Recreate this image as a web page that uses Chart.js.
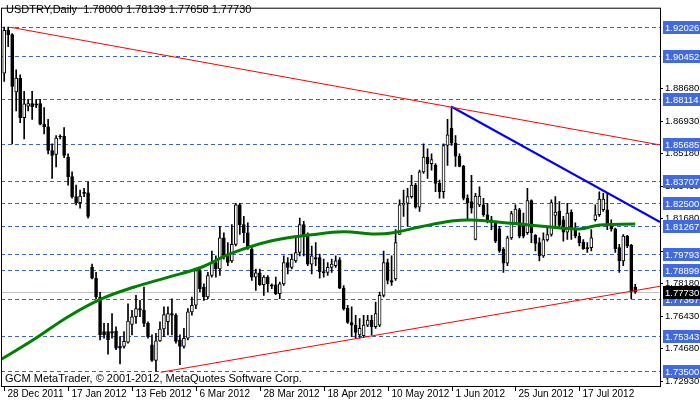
<!DOCTYPE html>
<html>
<head>
<meta charset="utf-8">
<script src="https://cdn.jsdelivr.net/npm/chart.js@4.4.0/dist/chart.umd.min.js"></script>
<style>
  body { margin: 0; background: #fff; }
  #wrap { position: relative; width: 700px; height: 402px; }
</style>
</head>
<body>
<div id="wrap"><canvas id="chart" width="700" height="402"></canvas></div>
<script>
// USDTRY daily candles, 28 Dec 2011 .. 1 Aug 2012
const opens = [1.8951,1.9182,1.9159,1.8850,1.8925,1.8712,1.8774,1.8788,1.8786,1.8788,1.8677,1.8663,1.8535,1.8514,1.8613,1.8611,1.8500,1.8394,1.8287,1.8254,
  1.8307,1.8307,1.7906,1.7847,1.7746,1.7560,1.7560,1.7560,1.7563,1.7480,1.7480,1.7503,1.7599,1.7640,1.7684,1.7675,1.7604,1.7489,1.7405,1.7510,
  1.7574,1.7613,1.7657,1.7648,1.7515,1.7480,1.7524,1.7666,1.7702,1.7888,1.7799,1.7746,1.7862,1.7932,1.7897,1.8065,1.7968,1.7941,1.8030,1.8242,
  1.8136,1.8092,1.8003,1.7853,1.7876,1.7812,1.7853,1.7812,1.7812,1.7764,1.7817,1.7932,1.7906,1.7941,1.7986,1.8136,1.8074,1.7923,1.7959,1.7959,
  1.7883,1.7879,1.7906,1.7915,1.7946,1.7794,1.7687,1.7609,1.7595,1.7542,1.7538,1.7595,1.7622,1.7586,1.7595,1.7755,1.7932,1.7835,1.7844,1.8083,
  1.8242,1.8251,1.8287,1.8349,1.8230,1.8420,1.8500,1.8464,1.8455,1.8358,1.8313,1.8562,1.8655,1.8575,1.8504,1.8450,1.8278,1.8260,1.8056,1.8242,
  1.8242,1.8189,1.8162,1.8145,1.8113,1.8003,1.7928,1.8065,1.8145,1.8216,1.8136,1.8092,1.8265,1.8078,1.8039,1.7968,1.8053,1.8083,1.8186,1.8207,
  1.8162,1.8095,1.8202,1.8113,1.8074,1.8042,1.8012,1.8012,1.8162,1.8189,1.8216,1.8216,1.8131,1.8113,1.8012,1.7941,1.8074,1.8025,1.78000];
const highs = [1.9200,1.9200,1.9164,1.8969,1.8942,1.8854,1.8810,1.8854,1.8810,1.8810,1.8766,1.8703,1.8571,1.8615,1.8620,1.8659,1.8517,1.8420,1.8349,1.8322,
  1.8331,1.8366,1.7923,1.7879,1.7772,1.7604,1.7604,1.7657,1.7586,1.7533,1.7560,1.7710,1.7675,1.7755,1.7728,1.7799,1.7613,1.7542,1.7551,1.7613,
  1.7693,1.7693,1.7737,1.7657,1.7542,1.7577,1.7684,1.7746,1.7897,1.7906,1.7817,1.7879,1.7994,1.7968,1.8127,1.8092,1.8039,1.8136,1.8251,1.8251,
  1.8180,1.8145,1.8021,1.7897,1.7897,1.7862,1.7862,1.7817,1.7853,1.7826,1.7968,1.7959,1.7977,1.8074,1.8171,1.8154,1.8092,1.8021,1.8039,1.7977,
  1.7950,1.7932,1.7950,1.7968,1.7959,1.7808,1.7702,1.7693,1.7648,1.7630,1.7648,1.7648,1.7648,1.7719,1.7773,1.7994,1.7950,1.7968,1.8109,1.8269,
  1.8322,1.8331,1.8402,1.8358,1.8429,1.8571,1.8544,1.8517,1.8464,1.8376,1.8571,1.8703,1.8769,1.8615,1.8517,1.8455,1.8296,1.8402,1.8304,1.8340,
  1.8278,1.8251,1.8180,1.8154,1.8127,1.8012,1.8074,1.8207,1.8242,1.8224,1.8198,1.8331,1.8269,1.8083,1.8065,1.8092,1.8127,1.8269,1.8287,1.8260,
  1.8180,1.8251,1.8216,1.8145,1.8092,1.8056,1.8039,1.8109,1.8242,1.8313,1.8304,1.8304,1.8162,1.8118,1.8030,1.8083,1.8078,1.8030,1.78139];
const lows = [1.8907,1.9094,1.8571,1.8748,1.8685,1.8597,1.8748,1.8703,1.8766,1.8673,1.8624,1.8517,1.8385,1.8447,1.8597,1.8496,1.8349,1.8278,1.8242,1.8224,
  1.8287,1.8171,1.7844,1.7737,1.7515,1.7524,1.7439,1.7524,1.7462,1.7386,1.7471,1.7498,1.7542,1.7604,1.7640,1.7586,1.7524,1.7400,1.7347,1.7507,
  1.7533,1.7542,1.7542,1.7498,1.7382,1.7471,1.7515,1.7648,1.7684,1.7773,1.7728,1.7737,1.7853,1.7853,1.7862,1.7950,1.7915,1.7932,1.8021,1.8083,
  1.8039,1.8003,1.7835,1.7781,1.7808,1.7755,1.7773,1.7791,1.7759,1.7737,1.7808,1.7870,1.7897,1.7932,1.7968,1.7968,1.7915,1.7870,1.7915,1.7847,
  1.7853,1.7862,1.7879,1.7906,1.7791,1.7675,1.7604,1.7533,1.7524,1.7524,1.7528,1.7586,1.7542,1.7577,1.7586,1.7746,1.7817,1.7808,1.7835,1.8083,
  1.8180,1.8127,1.8278,1.8224,1.8207,1.8411,1.8385,1.8429,1.8313,1.8278,1.8278,1.8455,1.8562,1.8450,1.8447,1.8269,1.8162,1.8198,1.8053,1.8233,
  1.8180,1.8145,1.8109,1.8039,1.7986,1.7879,1.7915,1.8056,1.8136,1.8065,1.8065,1.8083,1.8039,1.7994,1.7941,1.7959,1.8047,1.8074,1.8127,1.8124,
  1.8047,1.8056,1.8056,1.8065,1.8021,1.8003,1.7986,1.7994,1.8154,1.8180,1.8207,1.8109,1.8101,1.7986,1.7879,1.7915,1.8012,1.7737,1.77658];
const closes = [1.9182,1.9159,1.8880,1.8925,1.8712,1.8786,1.8788,1.8771,1.8779,1.8677,1.8663,1.8535,1.8509,1.8602,1.8608,1.8509,1.8394,1.8287,1.8254,1.8289,
  1.8304,1.8180,1.7847,1.7746,1.7542,1.7542,1.7515,1.7551,1.7471,1.7471,1.7507,1.7616,1.7640,1.7684,1.7675,1.7604,1.7533,1.7405,1.7510,1.7574,
  1.7652,1.7657,1.7648,1.7507,1.7480,1.7524,1.7666,1.7702,1.7888,1.7791,1.7746,1.7862,1.7932,1.7897,1.8065,1.7968,1.7932,1.8030,1.8242,1.8136,
  1.8092,1.8012,1.7853,1.7876,1.7812,1.7853,1.7817,1.7805,1.7764,1.7817,1.7932,1.7906,1.7950,1.7986,1.8136,1.8074,1.7923,1.7968,1.7950,1.7883,
  1.7876,1.7906,1.7923,1.7941,1.7794,1.7684,1.7609,1.7595,1.7556,1.7577,1.7595,1.7622,1.7586,1.7657,1.7755,1.7932,1.7835,1.7826,1.8039,1.8242,
  1.8251,1.8287,1.8349,1.8230,1.8420,1.8500,1.8464,1.8486,1.8358,1.8313,1.8562,1.8620,1.8575,1.8504,1.8450,1.8278,1.8254,1.8224,1.8289,1.8289,
  1.8189,1.8162,1.8145,1.8047,1.7994,1.7928,1.8065,1.8195,1.8219,1.8074,1.8074,1.8265,1.8092,1.8035,1.7968,1.8056,1.8083,1.8254,1.8204,1.8131,
  1.8095,1.8198,1.8113,1.8074,1.8039,1.8007,1.8007,1.8065,1.8189,1.8273,1.8273,1.8131,1.8113,1.8007,1.7941,1.8074,1.8021,1.7776,1.77730];

// 100-day moving average, read at a few bars
const maIdx = [-0.8, 7.4, 15.9, 24.2, 32.4, 40.9, 49.2, 56.7, 67, 77, 85, 92, 97, 104, 112, 117, 126, 134, 144, 149, 158];
const maVals = [1.7410,1.7517,1.7639,1.7735,1.7799,1.7852,1.7905,1.7980,1.8049,1.8081,1.8097,1.8086,1.8091,1.8123,1.8155,1.8161,1.8145,1.8129,1.8113,1.8134,1.8139];

// trend lines [index, price]
const upperLine = [[1.7, 1.9198], [164.2, 1.8565]];
const lowerLine = [[39.2, 1.7341], [164.2, 1.7804]];
const blueLine = [[111.9, 1.8772], [164.2, 1.8150]];

const dateLabels = ['28 Dec 2011','17 Jan 2012','13 Feb 2012','6 Mar 2012','28 Mar 2012','18 Apr 2012','10 May 2012','1 Jun 2012','25 Jun 2012','17 Jul 2012'];
const dateIdx = [0, 16, 32, 48, 64, 80, 96, 112, 128, 144];

const priceTicks = [1.72930,1.74680,1.76430,1.78180,1.79930,1.81680,1.83430,1.85180,1.86930,1.88680];
const levels = [1.92026,1.90452,1.88114,1.85685,1.83707,1.82500,1.81267,1.79793,1.78899,1.77367,1.75343,1.73500];
const lastPrice = 1.77730;

const FAMILY = '"Liberation Sans", Arial, sans-serif';
const FONT = '9.5px ' + FAMILY;

const wicks = opens.map((o, i) => ({ x: i, y: [lows[i], highs[i]] }));
const bodies = opens.map((o, i) => ({ x: i, y: [o, closes[i]] }));
const bodyFill = opens.map((o, i) => closes[i] >= o ? '#ffffff' : '#000000');

const mtPlugin = {
  id: 'mt',
  beforeDatasetsDraw(chart) {
    const { ctx, chartArea: a, scales: { y } } = chart;
    ctx.save();
    ctx.strokeStyle = '#3a5ed8';
    ctx.lineWidth = 1;
    ctx.setLineDash([4, 3]);
    levels.forEach(v => {
      const py = Math.round(y.getPixelForValue(v)) + 0.5;
      ctx.beginPath(); ctx.moveTo(a.left, py); ctx.lineTo(a.right, py); ctx.stroke();
    });
    ctx.setLineDash([]);
    ctx.strokeStyle = '#c0c0c0';
    const lp = Math.round(y.getPixelForValue(lastPrice)) + 0.5;
    ctx.beginPath(); ctx.moveTo(a.left, lp); ctx.lineTo(a.right, lp); ctx.stroke();
    ctx.restore();
  },
  afterDraw(chart) {
    const { ctx, chartArea: a, scales: { x, y } } = chart;
    ctx.save();
    // frame
    ctx.strokeStyle = '#000';
    ctx.lineWidth = 1;
    ctx.strokeRect(a.left + 0.5, a.top + 0.5, a.right - a.left, a.bottom - a.top);
    ctx.font = FONT;
    ctx.textBaseline = 'middle';
    // level boxes
    levels.forEach(v => {
      const py = Math.round(y.getPixelForValue(v));
      ctx.fillStyle = '#4169e1';
      ctx.fillRect(a.right + 3, py - 6, 40, 13);
      ctx.fillStyle = '#fff';
      ctx.fillText(v.toFixed(5), a.right + 5, py + 1);
    });
    const lp = Math.round(y.getPixelForValue(lastPrice));
    ctx.fillStyle = '#000';
    ctx.fillRect(a.right + 3, lp - 6, 40, 13);
    ctx.fillStyle = '#fff';
    ctx.fillText(lastPrice.toFixed(5), a.right + 5, lp + 1);
    // date axis
    ctx.font = '10px ' + FAMILY;
    ctx.fillStyle = '#000';
    ctx.strokeStyle = '#000';
    ctx.textBaseline = 'top';
    dateIdx.forEach((d, k) => {
      const px = Math.round(x.getPixelForValue(d)) + 0.5;
      ctx.beginPath(); ctx.moveTo(px, a.bottom); ctx.lineTo(px, a.bottom + 5); ctx.stroke();
      ctx.fillText(dateLabels[k], px + 3, a.bottom + 3);
    });
    // texts
    ctx.font = '11px ' + FAMILY;
    ctx.fillText('USDTRY,Daily  1.78000 1.78139 1.77658 1.77730', 6, 4);
    ctx.textBaseline = 'bottom';
    ctx.fillText('GCM MetaTrader, \u00a9 2001-2012, MetaQuotes Software Corp.', 5, a.bottom - 2);
    ctx.restore();
  }
};

new Chart(document.getElementById('chart'), {
  type: 'bar',
  data: {
    datasets: [
      { type: 'line', data: maIdx.map((v, i) => ({ x: v, y: maVals[i] })), borderColor: '#008000', borderWidth: 3, pointRadius: 0, tension: 0.4, order: 0 },
      { type: 'line', data: upperLine.map(p => ({ x: p[0], y: p[1] })), borderColor: '#ff0000', borderWidth: 1, pointRadius: 0, order: 0 },
      { type: 'line', data: lowerLine.map(p => ({ x: p[0], y: p[1] })), borderColor: '#ff0000', borderWidth: 1, pointRadius: 0, order: 0 },
      { type: 'line', data: blueLine.map(p => ({ x: p[0], y: p[1] })), borderColor: '#0000ff', borderWidth: 2, pointRadius: 0, order: 0 },
      { data: bodies, backgroundColor: bodyFill, borderColor: '#000', borderWidth: 1, borderSkipped: false, barThickness: 3, minBarLength: 1, grouped: false, order: 1 },
      { data: wicks, backgroundColor: '#000', borderWidth: 0, barThickness: 1, grouped: false, order: 2 },
    ]
  },
  options: {
    responsive: false,
    devicePixelRatio: 1,
    animation: false,
    layout: { padding: { top: 1, left: 1, bottom: 16, right: 0 } },
    plugins: { legend: { display: false }, tooltip: { enabled: false } },
    scales: {
      x: { type: 'linear', min: -0.8, max: 164.2, offset: false, display: false },
      y: {
        position: 'right', min: 1.7267, max: 1.9304,
        afterBuildTicks: s => { s.ticks = priceTicks.map(v => ({ value: v })); },
        afterFit: s => { s.width = 40; },
        grid: { drawOnChartArea: false, color: '#000', tickLength: 3 },
        border: { display: false },
        ticks: { color: '#000', font: { family: FAMILY, size: 9.5 }, padding: 2, callback: v => v.toFixed(5) }
      }
    }
  },
  plugins: [mtPlugin]
});
</script>
</body>
</html>
